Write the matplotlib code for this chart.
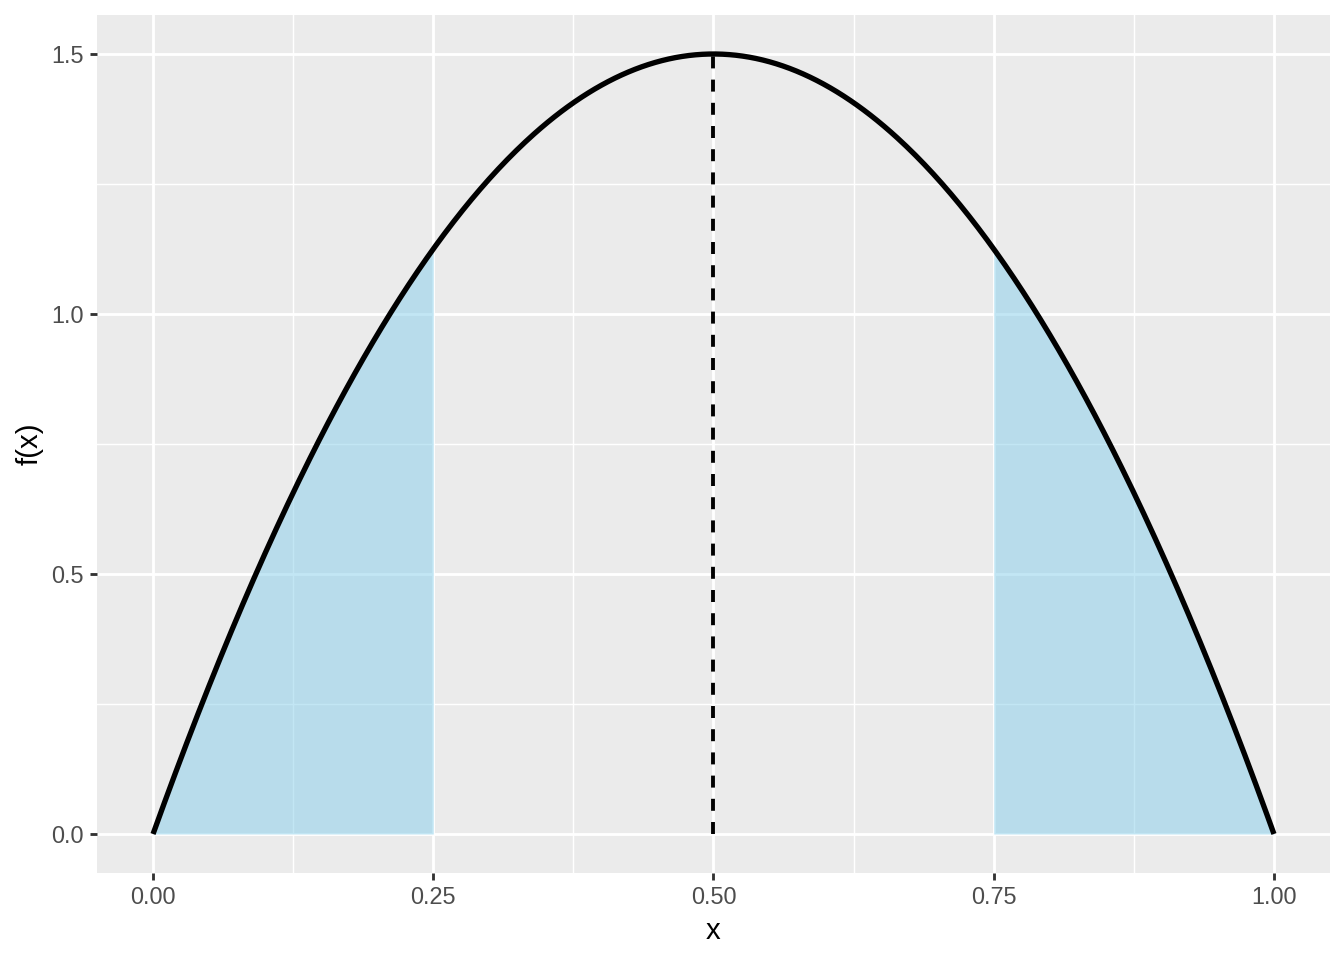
import numpy as np
import matplotlib
matplotlib.use("Agg")
import matplotlib.pyplot as plt
from math import gamma

# ---- data ----
beta_a = 2.0          # Beta distribution shape parameters (density curve)
beta_b = 2.0
x_limits = [0.0, 1.0]
shade_ranges = [(0.0, 0.25), (0.75, 1.0)]
mean_line = 0.5
x_ticks = [0.0, 0.25, 0.50, 0.75, 1.00]
x_ticklabels = ["0.00", "0.25", "0.50", "0.75", "1.00"]
y_ticks = [0.0, 0.5, 1.0, 1.5]
y_ticklabels = ["0.0", "0.5", "1.0", "1.5"]
x_label = "x"
y_label = "f(x)"


def beta_pdf(x, a, b):
    c = gamma(a + b) / (gamma(a) * gamma(b))
    return c * x ** (a - 1) * (1 - x) ** (b - 1)


plt.rcParams["font.family"] = ["Liberation Sans", "DejaVu Sans"]

fig = plt.figure(figsize=(7, 5), dpi=192)
ax = fig.add_axes([97 / 1344, 1 - 873 / 960, (1330 - 97) / 1344, (873 - 15) / 960])
ax.set_facecolor("#EBEBEB")
for s in ax.spines.values():
    s.set_visible(False)

xs = np.linspace(x_limits[0], x_limits[1], 501)
ys = beta_pdf(xs, beta_a, beta_b)

# grid
minor_x = [0.125, 0.375, 0.625, 0.875]
minor_y = [0.25, 0.75, 1.25]
for v in minor_x:
    ax.axvline(v, color="white", lw=0.53, zorder=0.5)
for v in minor_y:
    ax.axhline(v, color="white", lw=0.53, zorder=0.5)
for v in x_ticks:
    ax.axvline(v, color="white", lw=1.07, zorder=0.6)
for v in y_ticks:
    ax.axhline(v, color="white", lw=1.07, zorder=0.6)

for lo, hi in shade_ranges:
    m = (xs >= lo - 1e-12) & (xs <= hi + 1e-12)
    ax.fill_between(xs[m], 0, ys[m], color="#87CEEB", alpha=0.5, lw=0, zorder=1)

ax.plot(xs, ys, color="black", lw=2.0, solid_capstyle="butt", zorder=3)
ax.plot([mean_line, mean_line], [0, beta_pdf(mean_line, beta_a, beta_b)],
        color="black", lw=1.45, linestyle=(0, (3.1, 2.9)), zorder=3)

ax.set_xlim(-0.05, 1.05)
ax.set_ylim(-0.075, 1.575)
ax.set_xticks(x_ticks)
ax.set_xticklabels(x_ticklabels)
ax.set_yticks(y_ticks)
ax.set_yticklabels(y_ticklabels)
ax.tick_params(axis="both", length=2.75, width=1.07, color="#333333",
               labelcolor="#4D4D4D", labelsize=8.8, pad=2.2)
ax.set_xlabel(x_label, fontsize=11, color="black", labelpad=3)
ax.set_ylabel(y_label, fontsize=11, color="black", labelpad=3)

fig.savefig("out.png", dpi=192)
